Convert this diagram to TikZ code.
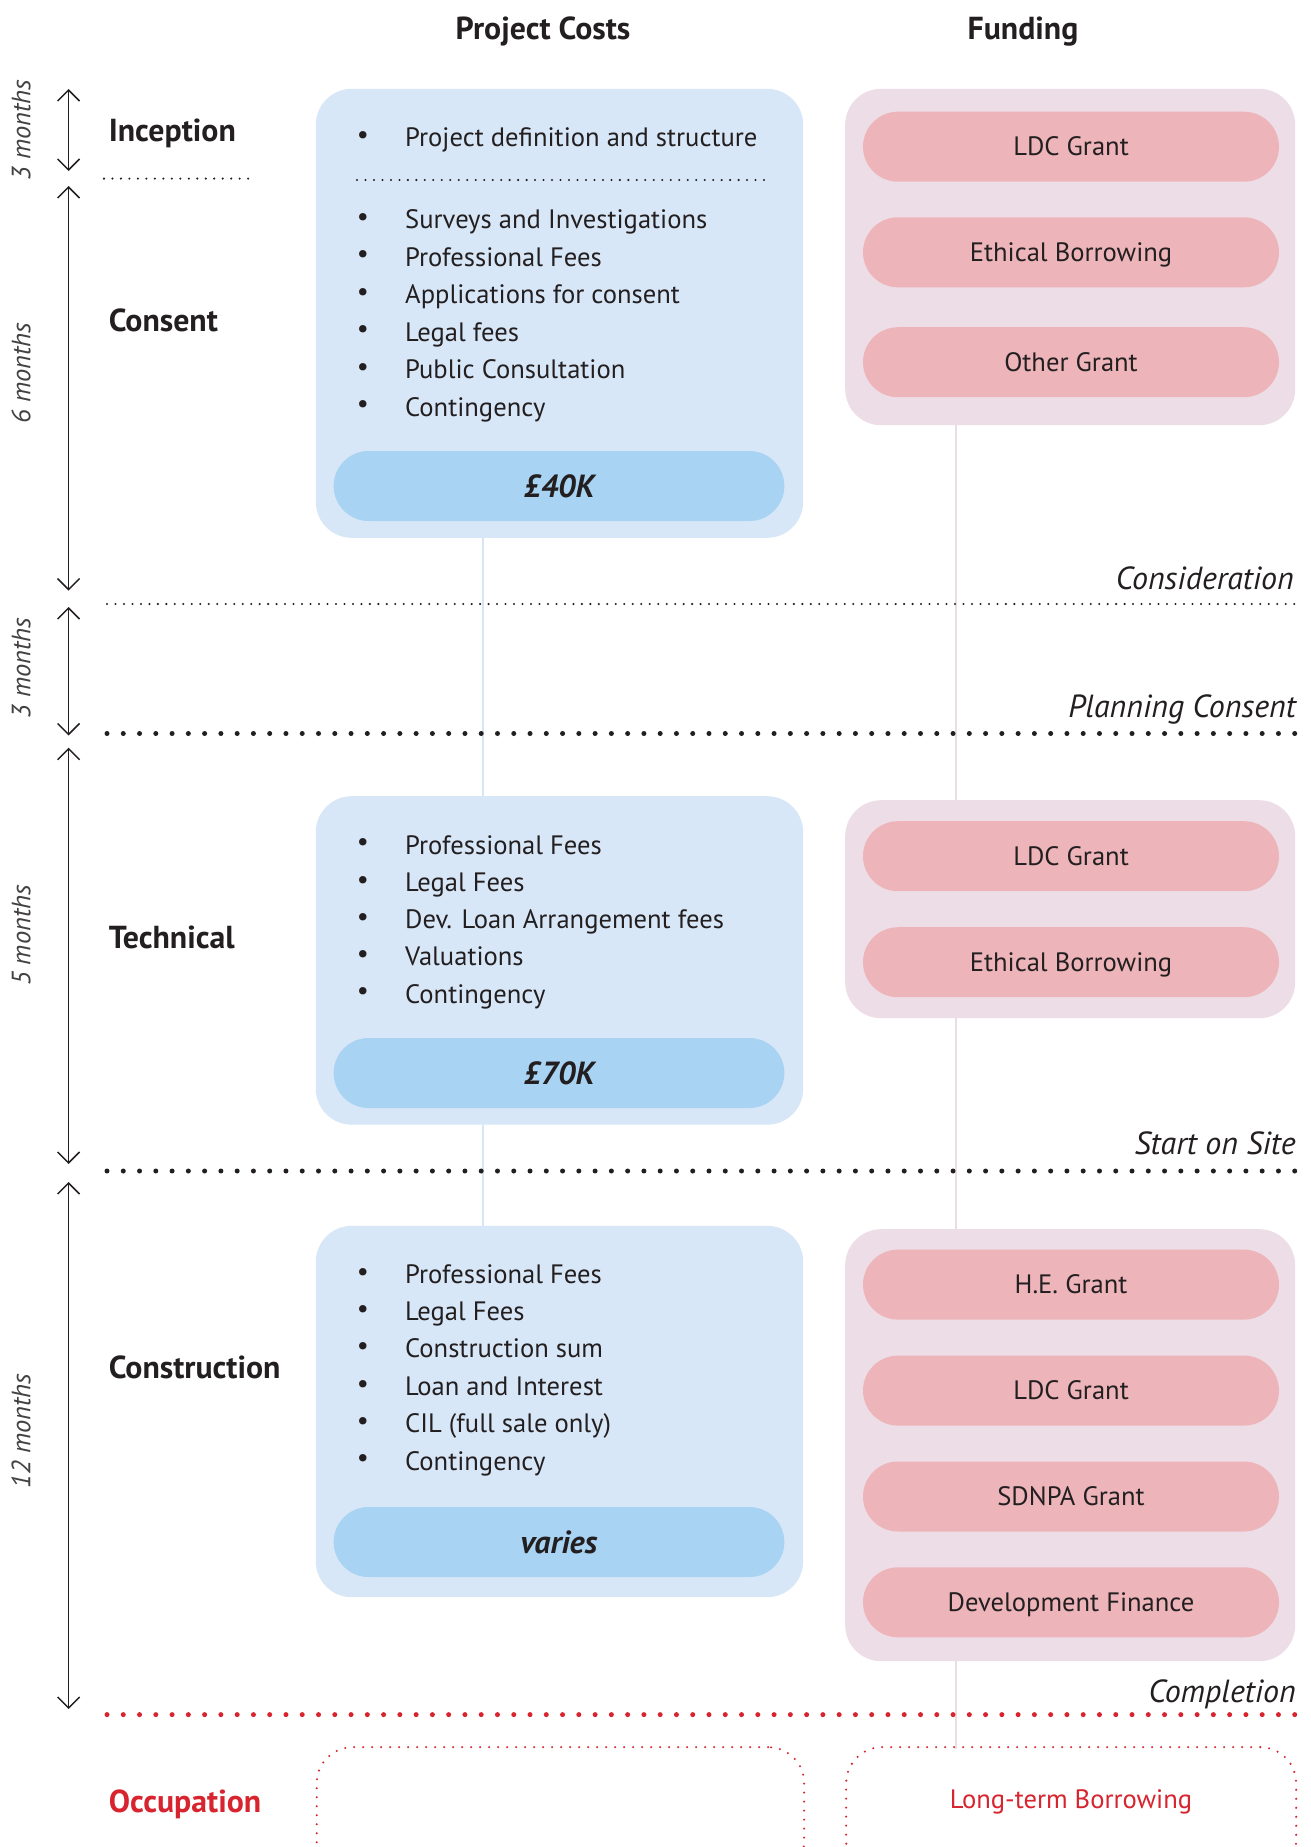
\documentclass[tikz,border=0pt]{standalone}
\usepackage{fontspec}
\setmainfont{PT Sans}
\usetikzlibrary{arrows.meta,calc}
\definecolor{ink}{HTML}{231F20}
\definecolor{boxblue}{HTML}{D8E7F7}
\definecolor{pillblue}{HTML}{A8D3F2}
\definecolor{boxpink}{HTML}{EDDDE6}
\definecolor{pillpink}{HTML}{EDB5BA}
\definecolor{lineblue}{HTML}{D6E6F6}
\definecolor{linepink}{HTML}{ECDCE6}
\definecolor{occred}{HTML}{D7242F}
\tikzset{
  costbox/.style={fill=boxblue, draw=none, rounded corners=36pt, anchor=north west, inner sep=0pt},
  fundbox/.style={fill=boxpink, draw=none, rounded corners=36pt, anchor=north west, inner sep=0pt},
  costpill/.style={fill=pillblue, draw=none, rounded corners=35pt, minimum width=450.7pt, minimum height=70pt, inner sep=0pt, text=ink, text height=22pt, text depth=0pt, font=\fontsize{32}{36}\selectfont\bfseries\itshape},
  fundpill/.style={fill=pillpink, draw=none, rounded corners=35pt, minimum width=416pt, minimum height=70pt, inner sep=0pt, text=ink, text height=18.5pt, text depth=0pt, font=\fontsize{26.6}{30}\selectfont},
  item/.style={anchor=west, inner sep=0pt, text=ink, text height=18.5pt, text depth=0pt, font=\fontsize{26.6}{30}\selectfont},
  bul/.style={inner sep=0pt, text=ink, font=\fontsize{26.6}{30}\selectfont},
  phase/.style={anchor=west, inner sep=0pt, text=ink, text height=22.5pt, text depth=0pt, font=\fontsize{31.8}{36}\selectfont\bfseries},
  head/.style={inner sep=0pt, text=ink, text height=22.5pt, text depth=0pt, font=\fontsize{31.8}{36}\selectfont\bfseries},
  months/.style={rotate=90, inner sep=0pt, text=ink!85, text height=18.5pt, text depth=0pt, font=\fontsize{26.5}{30}\selectfont\itshape},
  mile/.style={anchor=east, inner sep=0pt, text=ink, text height=22.5pt, text depth=0pt, font=\fontsize{32}{36}\selectfont\itshape},
  span/.style={{Straight Barb[length=11pt,width=22pt]}-{Straight Barb[length=11pt,width=22pt]}, line width=1.5pt, draw=ink},
  smalldots/.style={line width=2.3pt, line cap=round, dash pattern=on 0pt off 8.48pt, draw=ink},
  bigdots/.style={line width=5pt, line cap=round, dash pattern=on 0pt off 16.27pt, draw=ink},
  bluecon/.style={line width=2.5pt, draw=lineblue},
  pinkcon/.style={line width=2.5pt, draw=linepink},
  occbox/.style={draw=occred, line width=2.3pt, line cap=round, dash pattern=on 0pt off 9pt, rounded corners=36pt, anchor=north west, inner sep=0pt, fill=none}
}
\begin{document}
\begin{tikzpicture}[x=1pt,y=-1pt]
\useasboundingbox (0,0) rectangle (1310,1847);
\fill[white] (0,0) rectangle (1310,1847);
\clip (0,0) rectangle (1310,1847);

% headings
\node[head] (hcost) at (543,28.6) {Project Costs};
\node[head] (hfund) at (1023,28.6) {Funding};

% boxes
\node[costbox, minimum width=487.4pt, minimum height=449pt] (c1) at (315.6,88.6) {};
\node[costbox, minimum width=487.4pt, minimum height=328.5pt] (c2) at (315.6,796) {};
\node[costbox, minimum width=487.4pt, minimum height=371.4pt] (c3) at (315.6,1225.6) {};
\node[fundbox, minimum width=450pt, minimum height=336.4pt] (f1) at (845,88.6) {};
\node[fundbox, minimum width=450pt, minimum height=218pt] (f2) at (845,800) {};
\node[fundbox, minimum width=450pt, minimum height=432pt] (f3) at (845,1229) {};
\node[occbox, minimum width=487.4pt, minimum height=130pt] (o1) at (315.6,1746) {};
\node[occbox, minimum width=450pt, minimum height=130pt] (o2) at (845,1746) {};

% connectors
\coordinate (xb) at (483,0);
\coordinate (xp) at (956,0);
\draw[bluecon] (c1.south -| xb) -- (c2.north -| xb);
\draw[bluecon] (c2.south -| xb) -- (c3.north -| xb);
\draw[pinkcon] (f1.south -| xp) -- (f2.north -| xp);
\draw[pinkcon] (f2.south -| xp) -- (f3.north -| xp);
\draw[pinkcon] (f3.south -| xp) -- ($(o2.north -| xp)+(0,3)$);

% pills
\node[costpill] (p1) at (559,486) {£40K};
\node[costpill] (p2) at (559,1073) {£70K};
\node[costpill] (p3) at (559,1542) {varies};
\node[fundpill] (fa1) at (1071,146.7) {LDC Grant};
\node[fundpill] (fa2) at (1071,252.3) {Ethical Borrowing};
\node[fundpill] (fa3) at (1071,362.2) {Other Grant};
\node[fundpill] (fb1) at (1071,856.2) {LDC Grant};
\node[fundpill] (fb2) at (1071,962.2) {Ethical Borrowing};
\node[fundpill] (fc1) at (1071,1284.6) {H.E. Grant};
\node[fundpill] (fc2) at (1071,1390.6) {LDC Grant};
\node[fundpill] (fc3) at (1071,1496.5) {SDNPA Grant};
\node[fundpill] (fc4) at (1071,1602.3) {Development Finance};

% items
\foreach \t [count=\i] / \y in {Project definition and structure/137.5, Surveys and Investigations/219.6, Professional Fees/257, Applications for consent/294.6, Legal fees/332, Public Consultation/369.6, Contingency/407}{
  \node[bul] (ab\i) at (363,\y) {•};
  \node[item] (ai\i) at (405,\y) {\t};
}
\foreach \t [count=\i] / \y in {Professional Fees/845, Legal Fees/882.4, Dev. Loan Arrangement fees/919.5, Valuations/956.7, Contingency/994}{
  \node[bul] (bb\i) at (363,\y) {•};
  \node[item] (bi\i) at (405,\y) {\t};
}
\foreach \t [count=\i] / \y in {Professional Fees/1274, Legal Fees/1311, Construction sum/1348.6, Loan and Interest/1386.5, CIL (full sale only)/1423.7, Contingency/1460.8}{
  \node[bul] (cb\i) at (363,\y) {•};
  \node[item] (ci\i) at (405,\y) {\t};
}
\coordinate (il1) at (357,180);
\coordinate (il2) at (765,180);
\draw[smalldots] (il1) -- (il2);

% phase labels
\node[phase] (lin) at (108.6,130) {Inception};
\node[phase] (lco) at (108.6,320) {Consent};
\node[phase] (lte) at (108.6,937.6) {Technical};
\node[phase] (lcn) at (108.6,1367) {Construction};
\node[phase, text=occred] (loc) at (108.6,1801.7) {Occupation};
\node[item, anchor=center, text=occred] (lt) at (1071,1799) {Long-term Borrowing};

% timeline spans
\coordinate (s0) at (68.6,89);
\coordinate (s1) at (68.6,171);
\coordinate (s2) at (68.6,186);
\coordinate (s3) at (68.6,590.6);
\coordinate (s4) at (68.6,607);
\coordinate (s5) at (68.6,735.5);
\coordinate (s6) at (68.6,747.7);
\coordinate (s7) at (68.6,1164);
\coordinate (s8) at (68.6,1182);
\coordinate (s9) at (68.6,1709);
\draw[span] (s0) -- (s1);
\draw[span] (s2) -- (s3);
\draw[span] (s4) -- (s5);
\draw[span] (s6) -- (s7);
\draw[span] (s8) -- (s9);
\node[months] (m1) at (21,130) {3 months};
\node[months] (m2) at (21,373) {6 months};
\node[months] (m3) at (21,668) {3 months};
\node[months] (m4) at (21,935.5) {5 months};
\node[months] (m5) at (21,1431) {12 months};

% milestone lines
\coordinate (d0a) at (104,178.6);
\coordinate (d0b) at (250,178.6);
\draw[smalldots] (d0a) -- (d0b);
\coordinate (d1a) at (107,604);
\coordinate (d1b) at (1295,604);
\draw[smalldots] (d1a) -- (d1b);
\coordinate (d2a) at (107,733.5);
\coordinate (d2b) at (1295,733.5);
\draw[bigdots] (d2a) -- (d2b);
\coordinate (d3a) at (107,1171);
\coordinate (d3b) at (1295,1171);
\draw[bigdots] (d3a) -- (d3b);
\coordinate (d4a) at (107,1714.6);
\coordinate (d4b) at (1295,1714.6);
\draw[bigdots, draw=occred] (d4a) -- (d4b);

\node[mile] (ms1) at (1294,578) {Consideration};
\node[mile] (ms2) at (1296,706) {Planning Consent};
\node[mile] (ms3) at (1296,1143.7) {Start on Site};
\node[mile] (ms4) at (1296,1691) {Completion};
\end{tikzpicture}
\end{document}
